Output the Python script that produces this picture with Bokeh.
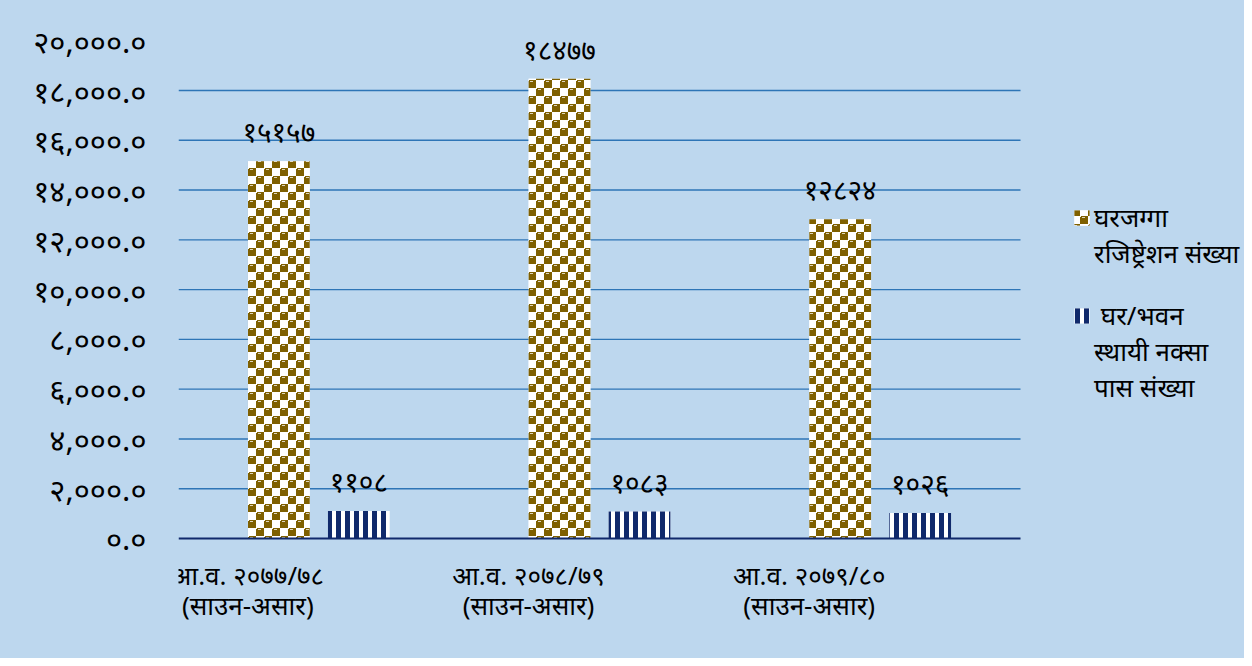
import zlib, struct, base64
from bokeh.plotting import figure
from bokeh.models import (ColumnDataSource, FixedTicker, Legend, LegendItem,
                          ImageURLTexture, Range1d)
from bokeh.transform import dodge
from bokeh.core.properties import value
from bokeh.embed import file_html
from bokeh.resources import INLINE

# ---------------- data ----------------
categories = ["आ.व. २०७७/७८", "आ.व. २०७८/७९", "आ.व. २०७९/८०"]
period_labels = ["(साउन-असार)", "(साउन-असार)", "(साउन-असार)"]
registration = [15157, 18477, 12824]
map_pass = [1108, 1083, 1026]
registration_labels = ["१५१५७", "१८४७७", "१२८२४"]
map_pass_labels = ["११०८", "१०८३", "१०२६"]
y_ticks = [0, 2000, 4000, 6000, 8000, 10000, 12000, 14000, 16000, 18000, 20000]
y_tick_labels = ["०.०", "२,०००.०", "४,०००.०", "६,०००.०", "८,०००.०", "१०,०००.०",
                 "१२,०००.०", "१४,०००.०", "१६,०००.०", "१८,०००.०", "२०,०००.०"]
series_names = ["घरजग्गा\nरजिष्ट्रेशन संख्या", " घर/भवन\nस्थायी नक्सा\nपास संख्या"]

# ---------------- style ----------------
BG = "#BDD7EE"
FONT = "Noto Sans"
BROWN = (0x7F, 0x60, 0x00)
NAVY = "#10296B"
GRID = "#2E75B6"


def checker_png(cell=8):
    """Small tile of the brown/white checker fill, encoded as a PNG data URI."""
    n = 2 * cell
    rows = []
    for yy in range(n):
        row = bytearray()
        for xx in range(n):
            cx, cy = xx % cell, yy % cell
            brown = (xx // cell + yy // cell) % 2 == 0
            corner = (cx == 0 and cy == 0)
            if brown and not corner:
                if cy == 1 and 2 <= cx <= 4:
                    row += bytes((0xE0, 0xD6, 0xBC))
                else:
                    row += bytes(BROWN)
            else:
                row += bytes((0xFF, 0xFF, 0xFF))
        rows.append(bytes(row))
    raw = b"".join(b"\x00" + r for r in rows)

    def chunk(t, d):
        return struct.pack(">I", len(d)) + t + d + struct.pack(">I", zlib.crc32(t + d) & 0xFFFFFFFF)
    data = (b"\x89PNG\r\n\x1a\n" + chunk(b"IHDR", struct.pack(">IIBBBBB", n, n, 8, 2, 0, 0, 0))
            + chunk(b"IDAT", zlib.compress(raw)) + chunk(b"IEND", b""))
    return "data:image/png;base64," + base64.b64encode(data).decode()


n_cat = len(categories)
xc = [i + 0.5 for i in range(n_cat)]          # category centres on the numeric scale
src = ColumnDataSource(dict(xc=xc, cat=categories, period=period_labels, reg=registration,
                            mp=map_pass, reg_lbl=registration_labels, mp_lbl=map_pass_labels))
grid_src = ColumnDataSource(dict(y=y_ticks[1:-1]))

p = figure(x_range=Range1d(0, 3.798), y_range=Range1d(-4621, 21094),
           width=1244, height=658, output_backend="svg", toolbar_location=None,
           min_border_left=178, min_border_right=0, min_border_top=13, min_border_bottom=5,
           background_fill_alpha=0, border_fill_alpha=0, outline_line_color=None)
p.styles = {"background-color": BG}

# horizontal grid lines, only across the plotting area of the categories
p.segment(x0=0, x1=n_cat, y0="y", y1="y", source=grid_src, line_color=GRID, line_width=1.4)

checker = ImageURLTexture(url=checker_png())

OFF = 0.1425
BW = 0.22

r1 = p.vbar(x=dodge("xc", -OFF), top="reg", width=BW, source=src,
            fill_color="white", line_color=None,
            hatch_pattern=value("checker"), hatch_extra={"checker": checker})
r2 = p.vbar(x=dodge("xc", OFF), top="mp", width=BW, source=src,
            fill_color="white", line_color=None,
            hatch_pattern="vertical_line", hatch_color=NAVY, hatch_scale=9, hatch_weight=5)
blank = p.vbar(x=[], top=[], width=BW, fill_alpha=0, line_alpha=0)

# zero baseline
p.segment(x0=0, x1=n_cat, y0=0, y1=0, line_color=NAVY, line_width=2)

p.text(x=dodge("xc", -OFF), y="reg", text="reg_lbl", source=src,
       text_align="center", text_baseline="middle", y_offset=-30,
       text_font=value(FONT), text_font_size="28px", text_color="black")
p.text(x=dodge("xc", OFF), y="mp", text="mp_lbl", source=src,
       text_align="center", text_baseline="middle", y_offset=-30,
       text_font=value(FONT), text_font_size="28px", text_color="black")

# category labels (two lines, below the baseline)
p.text(x="xc", y=0, text="cat", source=src, x_offset=-71, y_offset=37,
       text_align="center", text_baseline="middle",
       text_font=value(FONT), text_font_size="26px", text_color="black")
p.text(x="xc", y=0, text="period", source=src, x_offset=-71, y_offset=67,
       text_align="center", text_baseline="middle",
       text_font=value(FONT), text_font_size="26px", text_color="black")

p.xaxis.visible = False
p.xgrid.visible = False
p.ygrid.visible = False

ya = p.yaxis[0]
ya.ticker = FixedTicker(ticks=y_ticks)
ya.major_label_overrides = {t: l for t, l in zip(y_ticks, y_tick_labels)}
ya.axis_line_color = None
ya.major_tick_line_color = None
ya.minor_tick_line_color = None
ya.major_label_standoff = 26
ya.major_label_text_font = FONT
ya.major_label_text_font_size = "31px"
ya.major_label_text_color = "black"


def make_legend(lines, renderer, loc):
    items = [LegendItem(label=ln, renderers=[renderer if i == 0 else blank])
             for i, ln in enumerate(lines)]
    return Legend(items=items, location=loc, padding=0, margin=0, spacing=0,
                  glyph_width=19, glyph_height=19, label_standoff=3,
                  border_line_color=None, background_fill_alpha=0,
                  label_text_font=FONT, label_text_font_size="26px",
                  label_text_color="black")


p.add_layout(make_legend(series_names[0].split("\n"), r1, (894, 382)))
p.add_layout(make_legend(series_names[1].split("\n"), r2, (894, 248)))

open("out.html", "w").write(file_html(p, INLINE))
